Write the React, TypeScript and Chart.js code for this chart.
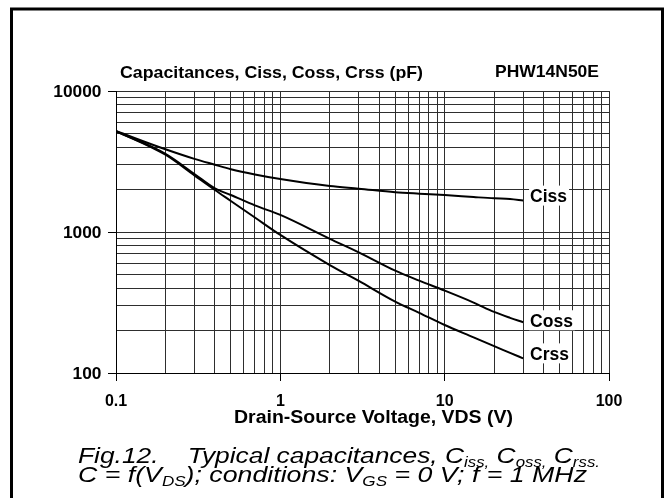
import React, { useEffect, useRef } from 'react';
import { Chart, registerables } from 'chart.js';

Chart.register(...registerables);

// ---- data ----
const VDS = [0.1, 0.2, 0.3, 0.4, 0.5, 0.7, 1, 2, 3, 5, 7, 10, 15, 20, 25, 30];
const CISS = [5200, 3860, 3300, 3000, 2790, 2560, 2375, 2120, 2030, 1915, 1870, 1830, 1770, 1732, 1715, 1670];
const COSS = [5200, 3580, 2580, 2040, 1830, 1545, 1321, 895, 718, 532, 452, 384, 316, 271, 246, 229];
const CRSS = [5200, 3530, 2520, 1985, 1660, 1267, 953, 583, 450, 321, 267, 219, 179, 155, 139, 127];
const SERIES_LABELS = ['Ciss', 'Coss', 'Crss'];
const X_TICK_LABELS = [0.1, 1, 10, 100];
const Y_TICK_LABELS = [100, 1000, 10000];
const CHART_TITLE = 'Capacitances, Ciss, Coss, Crss (pF)';
const PART_NUMBER = 'PHW14N50E';
const X_AXIS_TITLE = 'Drain-Source Voltage, VDS (V)';
const CAPTION_1 = [
  { t: 'Fig.12.    Typical capacitances, C' },
  { t: 'iss,', sub: true },
  { t: ' C' },
  { t: 'oss,', sub: true },
  { t: ' C' },
  { t: 'rss.', sub: true },
];
const CAPTION_2 = [
  { t: 'C = f(V' },
  { t: 'DS', sub: true },
  { t: '); conditions: V' },
  { t: 'GS', sub: true },
  { t: ' = 0 V; f = 1 MHz' },
];

const FONT = '"Liberation Sans", Arial, Helvetica, sans-serif';

function isDecade(v: number) {
  const l = Math.log10(v);
  return Math.abs(l - Math.round(l)) < 1e-9;
}

function logGrid(min: number, max: number) {
  const out: number[] = [];
  const e0 = Math.round(Math.log10(min));
  const e1 = Math.round(Math.log10(max));
  for (let e = e0; e < e1; e++) {
    for (let m = 1; m < 10; m++) out.push(parseFloat((m * Math.pow(10, e)).toPrecision(4)));
  }
  out.push(max);
  return out;
}

function drawFit(
  ctx: CanvasRenderingContext2D,
  text: string,
  x: number,
  y: number,
  font: string,
  align: 'left' | 'center' | 'right',
  width?: number
) {
  ctx.save();
  ctx.font = font;
  ctx.textBaseline = 'alphabetic';
  ctx.textAlign = 'left';
  const w = ctx.measureText(text).width;
  const tw = width ?? w;
  const sx = tw / w;
  const left = align === 'left' ? x : align === 'center' ? x - tw / 2 : x - tw;
  ctx.translate(left, y);
  ctx.scale(sx, 1);
  ctx.fillText(text, 0, 0);
  ctx.restore();
}

function drawRich(
  ctx: CanvasRenderingContext2D,
  segs: { t: string; sub?: boolean }[],
  left: number,
  right: number,
  baseline: number,
  size: number
) {
  const subSize = size * 0.64;
  const mainFont = `italic ${size}px ${FONT}`;
  const subFont = `italic ${subSize}px ${FONT}`;
  ctx.save();
  let total = 0;
  const widths = segs.map((s) => {
    ctx.font = s.sub ? subFont : mainFont;
    const w = ctx.measureText(s.t).width;
    total += w;
    return w;
  });
  const sx = (right - left) / total;
  ctx.translate(left, baseline);
  ctx.scale(sx, 1);
  ctx.textBaseline = 'alphabetic';
  ctx.textAlign = 'left';
  ctx.fillStyle = '#000';
  let x = 0;
  segs.forEach((s, i) => {
    ctx.font = s.sub ? subFont : mainFont;
    ctx.fillText(s.t, x, s.sub ? size * 0.2 : 0);
    x += widths[i];
  });
  ctx.restore();
}

const textPlugin = {
  id: 'textPlugin',
  afterDraw(chart: any) {
    const ctx: CanvasRenderingContext2D = chart.ctx;
    const xs = chart.scales.x;
    const ys = chart.scales.y;
    ctx.save();
    ctx.fillStyle = '#000';

    // outer frame
    ctx.strokeStyle = '#000';
    ctx.lineWidth = 3;
    ctx.strokeRect(11.5, 9, 651, 620);

    // headings
    drawFit(ctx, CHART_TITLE, 120, 78, `bold 17px ${FONT}`, 'left', 303);
    drawFit(ctx, PART_NUMBER, 495, 77, `bold 17px ${FONT}`, 'left', 104);

    // y tick labels
    Y_TICK_LABELS.forEach((v) => {
      const y = ys.getPixelForValue(v);
      ctx.save();
      ctx.font = `bold 16.5px ${FONT}`;
      const w = ctx.measureText(String(v)).width * 1.05;
      ctx.restore();
      drawFit(ctx, String(v), xs.left - 14.5, y + 6, `bold 16.5px ${FONT}`, 'right', w);
    });

    // x tick labels
    X_TICK_LABELS.forEach((v) => {
      const x = xs.getPixelForValue(v);
      drawFit(ctx, String(v), x, ys.bottom + 33, `bold 16px ${FONT}`, 'center');
    });

    // x axis title
    drawFit(ctx, X_AXIS_TITLE, (234 + 513) / 2, ys.bottom + 50, `bold 18px ${FONT}`, 'center', 279);

    // series labels with white boxes
    const offsets = [-5, -2, -5];
    chart.data.datasets.forEach((ds: any, i: number) => {
      const meta = chart.getDatasetMeta(i);
      const last = meta.data[meta.data.length - 1];
      const lx = last.x + 7;
      const cy = last.y + offsets[i];
      ctx.font = `bold 17.5px ${FONT}`;
      const w = ctx.measureText(SERIES_LABELS[i]).width;
      ctx.fillStyle = '#fff';
      ctx.fillRect(lx - 1, cy - 10, w + 3, 20);
      ctx.fillStyle = '#000';
      ctx.textBaseline = 'alphabetic';
      ctx.textAlign = 'left';
      ctx.fillText(SERIES_LABELS[i], lx, cy + 6.5);
    });

    // caption
    drawRich(ctx, CAPTION_1, 78, 600, 463, 21.5);
    drawRich(ctx, CAPTION_2, 78, 587, 482, 21.5);

    ctx.restore();
  },
};

export default function App() {
  const ref = useRef<HTMLCanvasElement | null>(null);

  useEffect(() => {
    if (!ref.current) return;
    const xGrid = logGrid(0.1, 100);
    const yGrid = logGrid(100, 10000);
    const mk = (label: string, vals: number[]) => ({
      label,
      data: VDS.map((x, i) => ({ x, y: vals[i] })),
      borderColor: '#000',
      backgroundColor: '#000',
      borderWidth: 2,
      pointRadius: 0,
      fill: false,
      cubicInterpolationMode: 'monotone' as const,
    });
    const gridOpts = {
      color: '#2e2e2e',
      lineWidth: 1,
      drawTicks: true,
      tickLength: 8,
      tickWidth: 1,
      tickColor: (c: any) => (c.tick && isDecade(c.tick.value) ? '#000' : 'rgba(0,0,0,0)'),
    };
    const chart = new Chart(ref.current, {
      type: 'line',
      data: {
        datasets: [mk(SERIES_LABELS[0], CISS), mk(SERIES_LABELS[1], COSS), mk(SERIES_LABELS[2], CRSS)],
      },
      options: {
        responsive: false,
        animation: false,
        devicePixelRatio: 1,
        layout: { padding: { left: 108, right: 58, top: 91, bottom: 117 } },
        plugins: {
          legend: { display: false },
          tooltip: { enabled: false },
          title: { display: false },
        },
        scales: {
          x: {
            type: 'logarithmic',
            min: 0.1,
            max: 100,
            afterBuildTicks: (s: any) => {
              s.ticks = xGrid.map((v) => ({ value: v, major: isDecade(v) }));
            },
            ticks: { display: false },
            grid: gridOpts,
            border: { display: true, color: '#000', width: 1 },
          },
          y: {
            type: 'logarithmic',
            min: 100,
            max: 10000,
            afterBuildTicks: (s: any) => {
              s.ticks = yGrid.map((v) => ({ value: v, major: isDecade(v) }));
            },
            ticks: { display: false },
            grid: gridOpts,
            border: { display: true, color: '#000', width: 1 },
          },
        },
      } as any,
      plugins: [textPlugin],
    });
    return () => chart.destroy();
  }, []);

  return (
    <div style={{ position: 'fixed', left: 0, top: 0, width: 667, height: 498, background: '#fff' }}>
      <canvas ref={ref} width={667} height={498} style={{ width: 667, height: 498, display: 'block' }} />
    </div>
  );
}
